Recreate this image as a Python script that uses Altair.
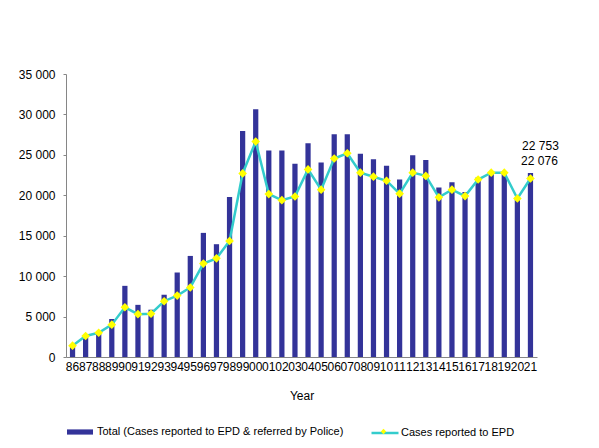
#!/usr/bin/env python3

"""Bar and line chart of cases reported to EPD, 1986-2021."""

import altair as alt
import pandas as pd

years = ["86", "87", "88", "89", "90", "91", "92", "93", "94", "95",
         "96", "97", "98", "99", "00", "01", "02", "03", "04", "05",
         "06", "07", "08", "09", "10", "11", "12", "13", "14", "15",
         "16", "17", "18", "19", "20", "21"]

# total cases (reported to EPD & referred by police)
total = [1300, 2500, 2900, 4700, 8800, 6450, 5850, 7700, 10450, 12500,
         15350, 13950, 19800, 27950, 30650, 25550, 25550, 23900, 26450, 24050,
         27550, 27550, 25150, 24450, 23650, 21950, 24950, 24350, 20950, 21600,
         20400, 22200, 22850, 22850, 19750, 22753]

# cases reported to EPD
epd = [1400, 2600, 3000, 4000, 6150, 5300, 5350, 6900, 7600, 8600,
       11550, 12200, 14350, 22700, 26650, 20150, 19400, 19850, 23200, 20700,
       24550, 25200, 22800, 22300, 21800, 20200, 22800, 22400, 19750, 20700,
       19900, 21950, 22800, 22800, 19600, 22076]

bar_name = "Total (Cases reported to EPD & referred by Police)"
line_name = "Cases reported to EPD"


def spaced(v):
    return f"{v:,}".replace(",", " ")


df = pd.DataFrame({"year": years, "total": total, "epd": epd})
df["bar_series"] = bar_name
df["line_series"] = line_name
df["pt_series"] = "pt"
df["total_label"] = df["total"].map(spaced)
df["epd_label"] = df["epd"].map(spaced)

x = alt.X(
    "year:O", sort=None,
    scale=alt.Scale(paddingInner=0.6, paddingOuter=0.3),
    axis=alt.Axis(title="Year", labelAngle=0, ticks=False, labelOverlap=False,
                  labelPadding=4, titlePadding=18, domainColor="#868686",
                  titleFontWeight="normal"),
)
y_scale = alt.Scale(domain=[0, 35000], nice=False)

bars = alt.Chart(df).mark_bar().encode(
    x=x,
    y=alt.Y("total:Q", scale=y_scale, axis=alt.Axis(
        title=None, values=list(range(0, 35001, 5000)), grid=False,
        tickSize=3, labelPadding=8, tickColor="#868686", domainColor="#868686",
        labelExpr="replace(format(datum.value, ','), ',', ' ')")),
    fill=alt.Fill("bar_series:N", scale=alt.Scale(range=["#333399"]), legend=alt.Legend(
        title=None, orient="none", legendX=0, legendY=344,
        symbolType="M-1,-0.2 H1 V0.2 H-1 Z", symbolSize=676, labelOffset=3,
        labelLimit=400)),
)

line = alt.Chart(df).mark_line(strokeWidth=2.5).encode(
    x=x,
    y=alt.Y("epd:Q", scale=y_scale),
    stroke=alt.Stroke("line_series:N", scale=alt.Scale(range=["#33CCCC"]), legend=alt.Legend(
        title=None, orient="none", legendX=304, legendY=344,
        symbolType="M-1,0 H1", symbolSize=729, symbolStrokeWidth=2.5, labelOffset=1,
        labelLimit=300)),
)

points = alt.Chart(df).mark_point(shape="diamond", filled=True, size=75, opacity=1).encode(
    x=x,
    y=alt.Y("epd:Q", scale=y_scale),
    color=alt.Color("pt_series:N", scale=alt.Scale(range=["#FFFF00"]), legend=alt.Legend(
        title=None, orient="none", legendX=304, legendY=344,
        symbolType="M0,-0.2 L0.2,0 L0,0.2 L-0.2,0 Z", symbolSize=729,
        symbolStrokeWidth=0, labelExpr="''")),
)

last = df[df["year"] == "21"]
label_total = alt.Chart(last).mark_text(dx=10, dy=-27, fontSize=12).encode(
    x=x, y=alt.Y("total:Q", scale=y_scale), text="total_label:N")
label_epd = alt.Chart(last).mark_text(dx=9, dy=-17, fontSize=12).encode(
    x=x, y=alt.Y("epd:Q", scale=y_scale), text="epd_label:N")

chart = alt.layer(bars, line, points, label_total, label_epd).resolve_scale(
    fill="independent", stroke="independent", color="independent"
).properties(
    width=471, height=283,
    autosize=alt.AutoSizeParams(type="none"),
    padding={"left": 58, "top": 66, "right": 50, "bottom": 88},
).configure(
    font="Arial, Liberation Sans",
).configure_axis(
    labelFontSize=12, titleFontSize=12, labelColor="black", titleColor="black",
    labelFont="Arial, Liberation Sans", titleFont="Arial, Liberation Sans",
).configure_legend(
    labelFontSize=11, labelColor="black", labelFont="Arial, Liberation Sans",
).configure_view(stroke=None)

chart.save("out.html", embed_options={"renderer": "svg", "actions": False})
